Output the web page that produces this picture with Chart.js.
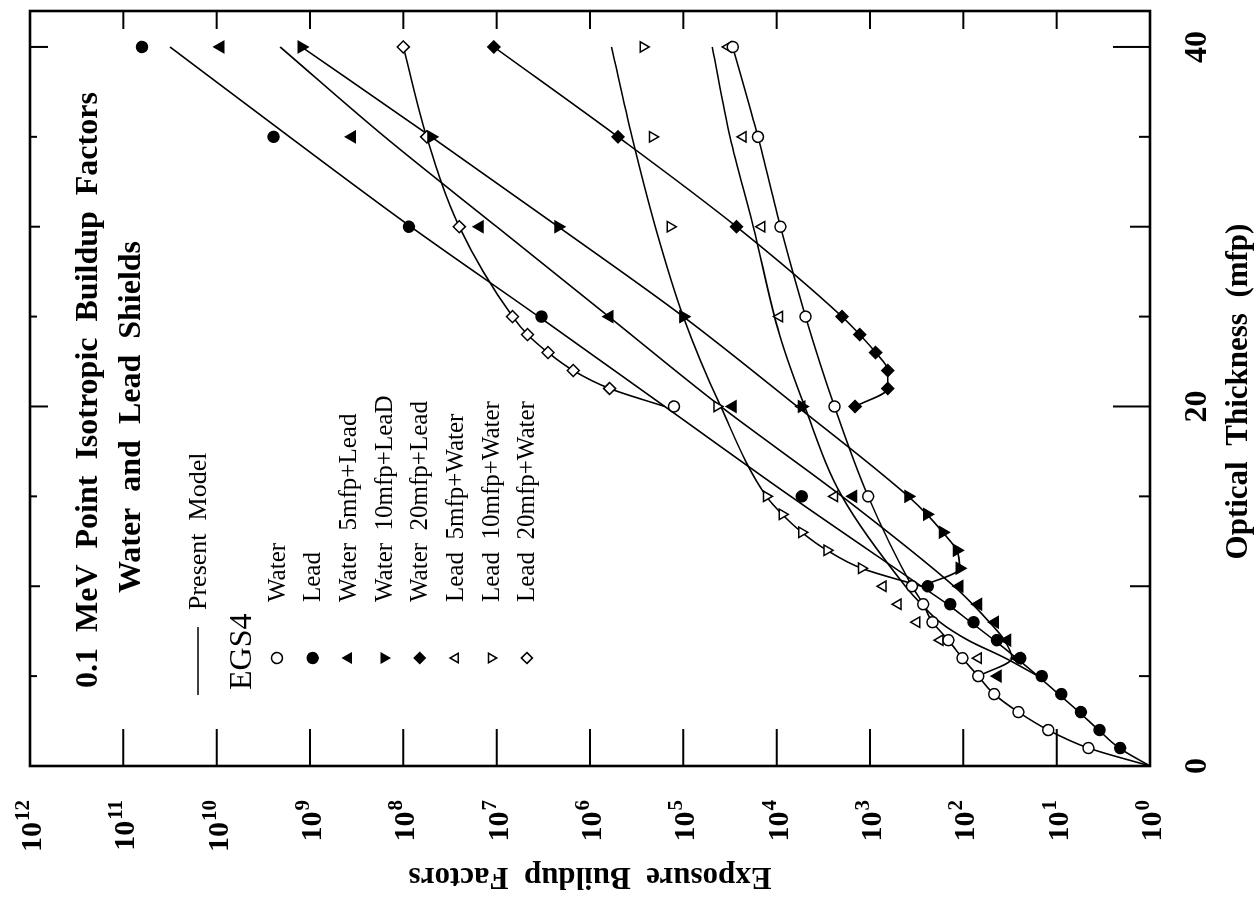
<!DOCTYPE html>
<html>
<head>
<meta charset="utf-8">
<script src="https://cdn.jsdelivr.net/npm/chart.js@4.4.1/dist/chart.umd.min.js"></script>
<style>
html,body{margin:0;padding:0;background:#fff;overflow:hidden;width:1258px;height:900px;}
#wrap{position:absolute;left:0;top:900px;width:900px;height:1258px;transform-origin:0 0;transform:rotate(-90deg);}
canvas{display:block;}
</style>
</head>
<body>
<div id="wrap"><canvas id="c" width="900" height="1258"></canvas></div>
<script>
// ---- Data (optical thickness in mfp; buildup factors stored as log10 values) ----
// EGS4 results
const waterT    = [1,2,3,4,5,6,7,8,9,10,15,20,25,30,35,40];
const waterLog  = [0.66,1.09,1.41,1.67,1.84,2.01,2.16,2.33,2.43,2.55,3.02,3.38,3.69,3.96,4.20,4.47];
const leadT     = [1,2,3,4,5,6,7,8,9,10,15,20,25,30,35,40];
const leadLog   = [0.32,0.54,0.74,0.95,1.16,1.39,1.64,1.89,2.14,2.38,3.73,5.10,6.52,7.94,9.39,10.80];
const w5LeadT   = [5,6,7,8,9,10,15,20,25,30,35,40];
const w5LeadLog = [1.63,1.42,1.53,1.66,1.84,2.04,3.18,4.47,5.79,7.18,8.55,9.96];
const w10LeadT  = [11,12,13,14,15,20,25,30,35,40];
const w10LeadLog= [2.04,2.07,2.22,2.39,2.59,3.73,5.00,6.34,7.70,9.09];
const w20LeadT  = [20,21,22,23,24,25,30,35,40];
const w20LeadLog= [3.16,2.81,2.81,2.94,3.11,3.30,4.43,5.70,7.03];
const l5WaterT  = [6,7,8,9,10,15,20,25,30,35,40];
const l5WaterLog= [1.84,2.25,2.50,2.70,2.86,3.38,3.73,3.97,4.16,4.36,4.52];
const l10WaterT = [11,12,13,14,15,20,25,30,35,40];
const l10WaterLog=[3.09,3.46,3.73,3.94,4.11,4.64,5.00,5.14,5.33,5.43];
const l20WaterT = [21,22,23,24,25,30,35,40];
const l20WaterLog=[5.79,6.18,6.45,6.67,6.83,7.40,7.75,8.00];
const leadOpenAt = [20];   // lead point printed as an open circle in the original

// Present model curves
const mWaterT    = [0,1,2,3,4,5,6,7,8,9,10,15,20,25,30,35,40];
const mWaterLog  = [0,0.66,1.09,1.41,1.67,1.84,2.01,2.16,2.33,2.43,2.55,3.02,3.38,3.69,3.96,4.20,4.47];
const mLeadT     = [0,1,2,3,4,5,6,7,8,9,10,15,20,25,30,35,40];
const mLeadLog   = [0,0.33,0.55,0.76,0.98,1.20,1.43,1.67,1.92,2.17,2.45,3.85,5.20,6.55,7.92,9.22,10.50];
const mW5LeadT   = [5,6,7,8,9,10,15,20,25,30,35,40];
const mW5LeadLog = [1.84,1.48,1.56,1.72,1.90,2.10,3.30,4.60,5.80,7.00,8.20,9.32];
const mW10LeadT  = [10,11,12,13,14,15,20,25,30,35,40];
const mW10LeadLog= [2.45,2.04,2.07,2.22,2.39,2.59,3.78,5.00,6.34,7.70,9.09];
const mW20LeadT  = [20,21,22,23,24,25,30,35,40];
const mW20LeadLog= [3.16,2.81,2.81,2.94,3.11,3.30,4.43,5.70,7.03];
const mL5WaterT  = [5,6,7,8,9,10,15,20,24,30,35,40];
const mL5WaterLog= [1.20,1.55,1.95,2.25,2.45,2.62,3.30,3.70,3.97,4.25,4.50,4.69];
const mL10WaterT = [10,11,12,13,14,15,20,25,30,35,40];
const mL10WaterLog=[2.45,3.09,3.46,3.73,3.94,4.11,4.60,5.00,5.30,5.55,5.77];
const mL20WaterT = [20,21,22,23,24,25,30,35,40];
const mL20WaterLog=[5.20,5.79,6.18,6.45,6.67,6.83,7.40,7.75,8.00];

// Axis ticks / labels
const xTickValues  = [0,5,10,15,20,25,30,35,40];
const xLabelValues = [0,20,40];
const yTickExps    = [0,1,2,3,4,5,6,7,8,9,10,11,12];

const titleLines = ['0.1  MeV  Point  Isotropic  Buildup  Factors', 'Water  and  Lead  Shields'];
const xTitle = 'Optical  Thickness  (mfp)';
const yTitle = 'Exposure  Buildup  Factors';
const modelLabel = 'Present  Model';
const egsLabel = 'EGS4';

// ---- helpers ----
const pts = (T, L) => T.map((t, i) => ({x: t, y: Math.pow(10, L[i])}));
const SERIF = '"Liberation Serif", "Times New Roman", serif';

function modelDs(T, L) {
  return {type:'line', data: pts(T, L), borderColor:'#000', borderWidth:1.6, pointRadius:0,
          cubicInterpolationMode:'monotone', fill:false, order:2, isModel:true};
}
function egsDs(label, T, L, style, filled, rot, radius) {
  return {type:'line', label, data: pts(T, L), showLine:false, order:1,
          pointStyle: style, pointRotation: rot || 0, pointRadius: radius,
          pointBorderWidth: 1.5, pointBorderColor:'#000',
          pointBackgroundColor: filled ? '#000' : '#fff'};
}

const leadDs = egsDs('Lead', leadT, leadLog, 'circle', true, 0, 5.5);
leadDs.pointBackgroundColor = (c) => leadOpenAt.includes(leadT[c.dataIndex]) ? '#fff' : '#000';

const egsSets = [
  egsDs('Water', waterT, waterLog, 'circle', false, 0, 5.5),
  leadDs,
  egsDs('Water  5mfp+Lead',  w5LeadT,  w5LeadLog,  'triangle', true, 0, 6.5),
  egsDs('Water  10mfp+LeaD', w10LeadT, w10LeadLog, 'triangle', true, 180, 6.5),
  egsDs('Water  20mfp+Lead', w20LeadT, w20LeadLog, 'rectRot', true, 0, 6),
  egsDs('Lead  5mfp+Water',  l5WaterT, l5WaterLog, 'triangle', false, 0, 6),
  egsDs('Lead  10mfp+Water', l10WaterT, l10WaterLog, 'triangle', false, 180, 6),
  egsDs('Lead  20mfp+Water', l20WaterT, l20WaterLog, 'rectRot', false, 0, 6)
];
const modelSets = [
  modelDs(mWaterT, mWaterLog), modelDs(mLeadT, mLeadLog),
  modelDs(mW5LeadT, mW5LeadLog), modelDs(mW10LeadT, mW10LeadLog), modelDs(mW20LeadT, mW20LeadLog),
  modelDs(mL5WaterT, mL5WaterLog), modelDs(mL10WaterT, mL10WaterLog), modelDs(mL20WaterT, mL20WaterLog)
];

function drawMarker(ctx, style, x, y, r, fill, rot) {
  ctx.save();
  ctx.translate(x, y);
  ctx.rotate((rot || 0) * Math.PI / 180);
  ctx.beginPath();
  if (style === 'circle') {
    ctx.arc(0, 0, r, 0, Math.PI * 2);
  } else if (style === 'triangle') {
    for (let k = 0; k < 3; k++) {
      const a = k * 2 * Math.PI / 3;
      const px = Math.sin(a) * r, py = -Math.cos(a) * r;
      k ? ctx.lineTo(px, py) : ctx.moveTo(px, py);
    }
    ctx.closePath();
  } else if (style === 'rectRot') {
    ctx.moveTo(0, -r); ctx.lineTo(r, 0); ctx.lineTo(0, r); ctx.lineTo(-r, 0); ctx.closePath();
  }
  ctx.fillStyle = fill; ctx.fill();
  ctx.lineWidth = 1.5; ctx.strokeStyle = '#000'; ctx.stroke();
  ctx.restore();
}

const framePlugin = {
  id: 'frame',
  afterDraw(chart) {
    const {ctx, chartArea: a, scales: {x, y}} = chart;
    ctx.save();
    ctx.strokeStyle = '#000'; ctx.fillStyle = '#000';
    const seg = (x1, y1, x2, y2) => { ctx.beginPath(); ctx.moveTo(x1, y1); ctx.lineTo(x2, y2); ctx.stroke(); };

    // frame
    ctx.lineWidth = 2.6;
    ctx.strokeRect(a.left, a.top, a.right - a.left, a.bottom - a.top);

    // thickness ticks (inward), mirrored on top
    ctx.lineWidth = 2;
    xTickValues.forEach(v => {
      const px = x.getPixelForValue(v);
      const len = v % 20 === 0 ? 37 : (v % 10 === 0 ? 20 : 11);
      const lenTop = v % 20 === 0 ? 18 : (v % 10 === 0 ? 10 : 7);
      seg(px, a.bottom, px, a.bottom - len);
      seg(px, a.top, px, a.top + lenTop);
    });
    // log ticks (inward), mirrored on right
    yTickExps.forEach(e => {
      const py = y.getPixelForValue(Math.pow(10, e));
      seg(a.left, py, a.left + 37, py);
      seg(a.right, py, a.right - 18, py);
    });

    // thickness labels
    ctx.font = 'bold 32px ' + SERIF;
    ctx.textAlign = 'center'; ctx.textBaseline = 'alphabetic';
    xLabelValues.forEach(v => ctx.fillText(String(v), x.getPixelForValue(v), a.bottom + 56));

    // log labels 10^n, right aligned
    const rightEdge = a.left - 34;
    yTickExps.forEach(e => {
      const py = y.getPixelForValue(Math.pow(10, e));
      ctx.font = 'bold 21px ' + SERIF;
      ctx.textAlign = 'right';
      const ew = ctx.measureText(String(e)).width;
      ctx.fillText(String(e), rightEdge, py - 1);
      ctx.font = 'bold 30px ' + SERIF;
      ctx.fillText('10', rightEdge - ew - 1, py + 11);
    });

    // axis titles
    ctx.font = 'bold 31px ' + SERIF;
    ctx.textAlign = 'center';
    ctx.fillText(xTitle, (a.left + a.right) / 2 - 3, a.bottom + 97);
    ctx.save();
    ctx.translate(32, (a.top + a.bottom) / 2);
    ctx.rotate(-Math.PI / 2);
    ctx.fillText(yTitle, 0, 0);
    ctx.restore();

    // in-plot title
    ctx.textAlign = 'left';
    ctx.font = 'bold 32px ' + SERIF;
    ctx.fillText(titleLines[0], 212, 97);
    ctx.fillText(titleLines[1], 307, 140);

    // legend
    ctx.lineWidth = 1.6;
    seg(205, 198, 273, 198);
    ctx.font = '26px ' + SERIF;
    ctx.textBaseline = 'middle';
    ctx.fillText(modelLabel, 290, 199);
    ctx.font = '32px ' + SERIF;
    ctx.textBaseline = 'alphabetic';
    ctx.fillText(egsLabel, 210, 251);
    ctx.font = '25px ' + SERIF;
    ctx.textBaseline = 'middle';
    egsSets.forEach((ds, i) => {
      const ly = 277 + i * 35.7;
      const fill = ds.label === 'Lead' ? '#000' : ds.pointBackgroundColor;
      drawMarker(ctx, ds.pointStyle, 242, ly, Math.min(ds.pointRadius, 5.5), fill, ds.pointRotation);
      ctx.fillStyle = '#000';
      ctx.fillText(ds.label, 298, ly + 1);
    });
    ctx.restore();
  }
};

new Chart(document.getElementById('c'), {
  data: { datasets: [...modelSets, ...egsSets] },
  options: {
    responsive: false,
    animation: false,
    devicePixelRatio: 1,
    layout: { padding: { top: 30, right: 11, left: 0, bottom: 0 } },
    plugins: { legend: { display: false }, tooltip: { enabled: false }, title: { display: false } },
    scales: {
      x: { type: 'linear', min: 0, max: 42, grid: { display: false }, border: { display: false },
           ticks: { display: false }, afterFit: s => { s.height = 108; } },
      y: { type: 'logarithmic', min: 1, max: 1e12, grid: { display: false }, border: { display: false },
           ticks: { display: false }, afterFit: s => { s.width = 134; } }
    }
  },
  plugins: [framePlugin]
});
</script>
</body>
</html>
